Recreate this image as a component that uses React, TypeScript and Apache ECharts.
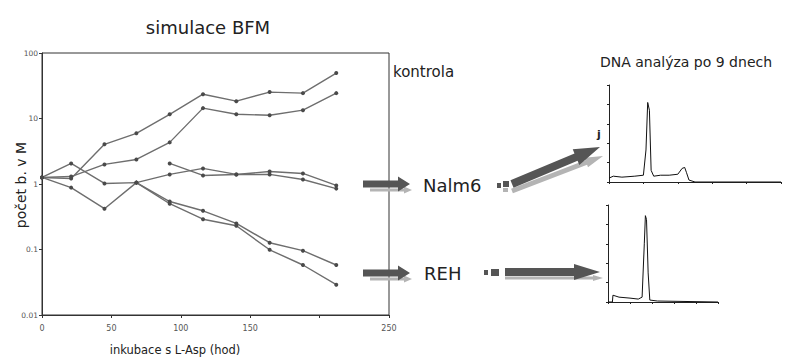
import React, { useEffect, useRef } from "react";
import * as echarts from "echarts";

// ---- data ----
const hours = [0, 21, 45, 68, 92, 116, 140, 164, 188, 212];
const kontrolaA = [1.26, 1.21, 4.03, 5.94, 11.6, 23.5, 18.4, 25.3, 24.4, 49.4];
const kontrolaB = [1.26, 1.3, 1.99, 2.37, 4.32, 14.4, 11.6, 11.2, 13.4, 24.4];
const nalm6A = [null, null, null, 1.05, 1.4, 1.73, 1.4, 1.55, 1.45, 0.95];
const nalm6B = [null, null, null, null, 2.06, 1.35, 1.4, 1.4, 1.17, 0.85];
const rehA = [1.26, 0.88, 0.42, 1.05, 0.54, 0.39, 0.25, 0.127, 0.096, 0.058];
const rehB = [1.26, 2.06, 1.02, 1.05, 0.5, 0.29, 0.23, 0.099, 0.058, 0.029];

const xTicks = [0, 50, 100, 150, 200, 250];
const xTickLabels = ["0", "50", "100", "150", "", "250"];
const yTicks = [0.01, 0.1, 1, 10, 100];

// DNA histograms (channel, count)
const dnaChannelNalm6 = [0, 5, 15, 30, 40, 43, 45, 47, 49, 52, 60, 70, 80, 85, 88, 90, 93, 100, 200];
const dnaCountNalm6 = [4, 6, 5, 6, 7, 33, 82, 74, 12, 6, 7, 7, 8, 14, 15, 10, 2, 0, 0];
const dnaChannelREH = [0, 8, 9, 20, 40, 55, 62, 66, 68, 70, 73, 76, 90, 200];
const dnaCountREH = [0, 0, 7, 5, 4, 3, 5, 60, 89, 85, 30, 2, 1, 0];

const FONT = "DejaVu Sans";

function pairs(xs: number[], ys: (number | null)[]) {
  const out: [number, number][] = [];
  xs.forEach((x, i) => {
    const y = ys[i];
    if (y !== null && y !== undefined) out.push([x, y]);
  });
  return out;
}

function arrowPoints(x1: number, y1: number, x2: number, y2: number, bw: number, hw: number, hl: number) {
  const dx = x2 - x1, dy = y2 - y1;
  const L = Math.hypot(dx, dy);
  const ux = dx / L, uy = dy / L;
  const nx = -uy, ny = ux;
  const bx = x2 - ux * hl, by = y2 - uy * hl;
  return [
    [x1 + (nx * bw) / 2, y1 + (ny * bw) / 2],
    [bx + (nx * bw) / 2, by + (ny * bw) / 2],
    [bx + (nx * hw) / 2, by + (ny * hw) / 2],
    [x2, y2],
    [bx - (nx * hw) / 2, by - (ny * hw) / 2],
    [bx - (nx * bw) / 2, by - (ny * bw) / 2],
    [x1 - (nx * bw) / 2, y1 - (ny * bw) / 2],
  ];
}

function arrow(x1: number, y1: number, x2: number, y2: number, bw: number, hw: number, hl: number, color: string) {
  return { type: "polygon", shape: { points: arrowPoints(x1, y1, x2, y2, bw, hw, hl) }, style: { fill: color }, z: 10 };
}

function text(t: string, x: number, y: number, size: number, extra: any = {}) {
  return {
    type: "text",
    x,
    y,
    z: 20,
    style: { text: t, fontFamily: FONT, fontSize: size, fill: "#222", textVerticalAlign: "middle", ...extra },
  };
}

const lineSeries = (name: string, data: [number, number][]) => ({
  name,
  type: "line",
  xAxisIndex: 0,
  yAxisIndex: 0,
  data,
  symbol: "circle",
  symbolSize: 4,
  lineStyle: { color: "#6e6e6e", width: 1.4 },
  itemStyle: { color: "#4a4a4a" },
});

export default function App() {
  const ref = useRef<HTMLDivElement>(null);
  useEffect(() => {
    if (!ref.current) return;
    const chart = echarts.init(ref.current, undefined, { renderer: "svg" });
    const dark = "#555";
    const light = "#b4b4b4";
    chart.setOption({
      animation: false,
      backgroundColor: "#fff",
      grid: [
        { left: 42, top: 53, width: 347, height: 262, show: true, borderColor: "#333", borderWidth: 1 },
        { left: 609, top: 85, width: 172, height: 97 },
        { left: 608, top: 205, width: 110, height: 97 },
      ],
      xAxis: [
        {
          type: "value",
          gridIndex: 0,
          min: xTicks[0],
          max: xTicks[xTicks.length - 1],
          interval: 50,
          axisLine: { lineStyle: { color: "#333" } },
          axisTick: { length: 3, lineStyle: { color: "#333" } },
          axisLabel: {
            fontSize: 8,
            color: "#555",
            margin: 9,
            fontFamily: FONT,
            formatter: (v: number) => {
              const i = xTicks.indexOf(v);
              return i >= 0 ? xTickLabels[i] : "";
            },
          },
          splitLine: { show: false },
        },
        {
          type: "value",
          gridIndex: 1,
          min: 0,
          max: 200,
          interval: 40,
          axisLine: { lineStyle: { color: "#222" } },
          axisTick: { length: 2, lineStyle: { color: "#222" } },
          axisLabel: { show: false },
          splitLine: { show: false },
        },
        {
          type: "value",
          gridIndex: 2,
          min: 0,
          max: 200,
          interval: 40,
          axisLine: { lineStyle: { color: "#222" } },
          axisTick: { length: 2, lineStyle: { color: "#222" } },
          axisLabel: { show: false },
          splitLine: { show: false },
        },
      ],
      yAxis: [
        {
          type: "log",
          logBase: 10,
          gridIndex: 0,
          min: yTicks[0],
          max: yTicks[yTicks.length - 1],
          axisLine: { show: true, lineStyle: { color: "#333" } },
          axisTick: { show: true, length: 3, lineStyle: { color: "#333" } },
          axisLabel: { fontSize: 7.5, color: "#555", margin: 4, fontFamily: FONT, formatter: (v: number) => String(v) },
          splitLine: { show: false },
        },
        {
          type: "value",
          gridIndex: 1,
          min: 0,
          max: 100,
          interval: 20,
          axisLine: { show: true, lineStyle: { color: "#222" } },
          axisTick: { show: true, length: 2, lineStyle: { color: "#222" } },
          axisLabel: { show: false },
          splitLine: { show: false },
        },
        {
          type: "value",
          gridIndex: 2,
          min: 0,
          max: 100,
          interval: 20,
          axisLine: { show: true, lineStyle: { color: "#222" } },
          axisTick: { show: true, length: 2, lineStyle: { color: "#222" } },
          axisLabel: { show: false },
          splitLine: { show: false },
        },
      ],
      series: [
        lineSeries("kontrola A", pairs(hours, kontrolaA)),
        lineSeries("kontrola B", pairs(hours, kontrolaB)),
        lineSeries("Nalm6 A", pairs(hours, nalm6A)),
        lineSeries("Nalm6 B", pairs(hours, nalm6B)),
        lineSeries("REH A", pairs(hours, rehA)),
        lineSeries("REH B", pairs(hours, rehB)),
        {
          name: "DNA Nalm6",
          type: "line",
          xAxisIndex: 1,
          yAxisIndex: 1,
          data: pairs(dnaChannelNalm6, dnaCountNalm6),
          symbol: "none",
          lineStyle: { color: "#111", width: 1 },
        },
        {
          name: "DNA REH",
          type: "line",
          xAxisIndex: 2,
          yAxisIndex: 2,
          data: pairs(dnaChannelREH, dnaCountREH),
          symbol: "none",
          lineStyle: { color: "#111", width: 1 },
        },
      ],
      graphic: [
        text("simulace BFM", 208, 27, 18, { textAlign: "center" }),
        text("kontrola", 393, 72, 15),
        text("Nalm6", 423, 185, 18),
        text("REH", 424, 273, 18),
        text("inkubace s L-Asp (hod)", 175, 350, 11.5, { textAlign: "center" }),
        {
          type: "text",
          x: 21,
          y: 185,
          rotation: Math.PI / 2,
          z: 20,
          style: { text: "počet b. v M", fontFamily: FONT, fontSize: 14, fill: "#222", textAlign: "center", textVerticalAlign: "middle" },
        },
        text("DNA analýza po 9 dnech", 600, 62, 14),
        text("j", 597, 134, 11, { fontWeight: "bold" }),
        // small arrows
        arrow(370, 190, 412, 190, 3, 7, 8, light),
        arrow(363, 184, 410, 184, 7, 15, 12, dark),
        arrow(370, 279, 412, 279, 3, 7, 8, light),
        arrow(363, 273, 410, 273, 7, 15, 12, dark),
        // big arrows
        arrow(512, 191, 603, 156, 5, 10, 18, light),
        arrow(512, 184, 600, 147, 8, 17, 26, dark),
        { type: "rect", shape: { x: 497, y: 183, width: 4, height: 5 }, style: { fill: dark }, z: 10 },
        { type: "rect", shape: { x: 503, y: 181, width: 6, height: 6 }, style: { fill: dark }, z: 10 },
        { type: "rect", shape: { x: 503, y: 188, width: 5, height: 4 }, style: { fill: light }, z: 10 },
        arrow(505, 278, 603, 278, 3, 6, 10, light),
        arrow(505, 272, 600, 272, 8, 16, 26, dark),
        { type: "rect", shape: { x: 484, y: 270, width: 4, height: 5 }, style: { fill: dark }, z: 10 },
        { type: "rect", shape: { x: 491, y: 269, width: 8, height: 7 }, style: { fill: dark }, z: 10 },
      ],
    });
    return () => chart.dispose();
  }, []);
  return <div ref={ref} style={{ position: "absolute", left: 0, top: 0, width: 786, height: 364 }} />;
}
